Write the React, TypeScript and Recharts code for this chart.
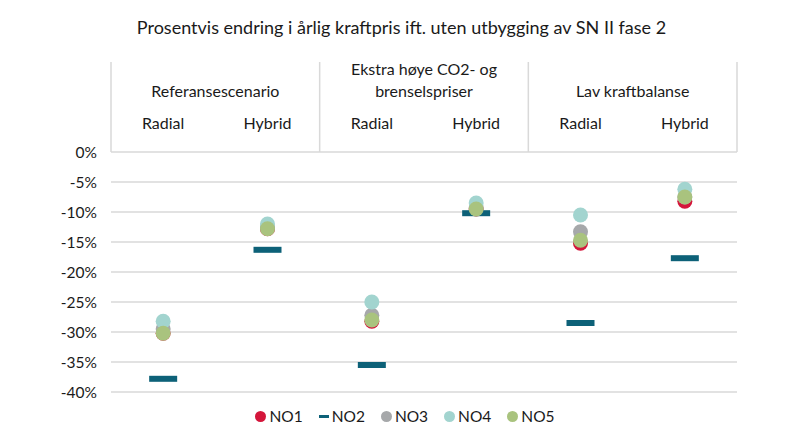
import { ComposedChart, Scatter, XAxis, YAxis, CartesianGrid } from 'recharts';

const title = 'Prosentvis endring i årlig kraftpris ift. uten utbygging av SN II fase 2';
const scenarios = ['Referansescenario', 'Ekstra høye CO2- og|brenselspriser', 'Lav kraftbalanse'];
const variants = ['Radial', 'Hybrid', 'Radial', 'Hybrid', 'Radial', 'Hybrid'];

const no1 = [-30.2, -12.8, -28.2, -9.5, -15.2, -8.2];
const no2 = [-37.8, -16.3, -35.5, -10.2, -28.5, -17.7];
const no3 = [-29.5, -12.5, -27.2, -9.3, -13.3, -7.5];
const no4 = [-28.2, -12.0, -25.0, -8.5, -10.5, -6.2];
const no5 = [-30.2, -12.8, -28.0, -9.5, -14.7, -7.5];

const yTicks = [0, -5, -10, -15, -20, -25, -30, -35, -40];

const series = [
  { name: 'NO1', values: no1, color: '#d4163b', dash: false },
  { name: 'NO2', values: no2, color: '#0d6178', dash: true },
  { name: 'NO3', values: no3, color: '#a6a8aa', dash: false },
  { name: 'NO4', values: no4, color: '#a2d4cf', dash: false },
  { name: 'NO5', values: no5, color: '#a9c37e', dash: false },
];

const FONT = 'Lato, "Open Sans", sans-serif';
const GRID = '#d9d9d9';
const HEADER_H = 90;

const toPoints = (values: number[]) => values.map((v, i) => ({ x: i + 0.5, y: v }));

const topTicks = Array.from({ length: 13 }, (_, i) => i / 2);

function HeaderTick(props: any) {
  const { x, y, payload } = props;
  const v = payload.value as number;
  if (v % 2 === 0) {
    return <line x1={x} x2={x} y1={y - HEADER_H} y2={y} stroke={GRID} strokeWidth={1.5} />;
  }
  if (Number.isInteger(v)) {
    const lines = scenarios[(v - 1) / 2].split('|');
    const base = lines.length > 1 ? y - 77 : y - 55;
    return (
      <text x={x} y={base} textAnchor="middle" fontSize={16} fill="#1a1a1a" fontFamily={FONT}>
        {lines.map((l, i) => (
          <tspan key={i} x={x} dy={i === 0 ? 0 : 22}>
            {l}
          </tspan>
        ))}
      </text>
    );
  }
  return (
    <text x={x} y={y - 23} textAnchor="middle" fontSize={16} fill="#1a1a1a" fontFamily={FONT}>
      {variants[Math.floor(v)]}
    </text>
  );
}

function Dot(props: any) {
  const { cx, cy, fill } = props;
  return <circle cx={cx} cy={cy} r={7.5} fill={fill} />;
}

function Dash(props: any) {
  const { cx, cy, fill } = props;
  return <rect x={cx - 14} y={cy - 3} width={28} height={6} fill={fill} />;
}

function LegendBox() {
  return (
    <div
      style={{
        position: 'absolute',
        left: 0,
        top: 407,
        width: 810,
        display: 'flex',
        justifyContent: 'center',
        gap: 16,
        fontFamily: FONT,
        fontSize: 15.5,
        color: '#1a1a1a',
      }}
    >
      {series.map((s) => (
        <div key={s.name} style={{ display: 'flex', alignItems: 'center', gap: 3 }}>
          {s.dash ? (
            <span style={{ display: 'inline-block', width: 10, height: 3, background: s.color }} />
          ) : (
            <span style={{ display: 'inline-block', width: 11, height: 11, borderRadius: 6, background: s.color }} />
          )}
          <span>{s.name}</span>
        </div>
      ))}
    </div>
  );
}

export default function App() {
  return (
    <div style={{ position: 'absolute', left: 0, top: 0, width: 790, height: 445, background: '#fff' }}>
      <div
        style={{
          position: 'absolute',
          left: 0,
          top: 16,
          width: 803,
          textAlign: 'center',
          fontFamily: FONT,
          fontSize: 18,
          color: '#1a1a1a',
        }}
      >
        {title}
      </div>
      <ComposedChart width={790} height={445} margin={{ top: 62, right: 53, left: 0, bottom: 53 }}>
        <CartesianGrid horizontal vertical={false} stroke={GRID} strokeWidth={1.5} />
        <XAxis
          xAxisId="top"
          type="number"
          dataKey="x"
          orientation="top"
          domain={[0, 6]}
          ticks={topTicks}
          interval={0}
          height={HEADER_H}
          axisLine={false}
          tickLine={false}
          tickSize={0}
          tickMargin={0}
          tick={<HeaderTick />}
        />
        <YAxis
          type="number"
          dataKey="y"
          domain={[-40, 0]}
          ticks={yTicks}
          interval={0}
          width={111}
          axisLine={false}
          tickLine={false}
          tickSize={0}
          tickMargin={14}
          tickFormatter={(v: number) => `${v}%`}
          tick={{ fontSize: 15.5, fill: '#1a1a1a', fontFamily: FONT }}
        />
        {series.map((s) => (
          <Scatter
            key={s.name}
            xAxisId="top"
            name={s.name}
            data={toPoints(s.values)}
            fill={s.color}
            shape={s.dash ? <Dash /> : <Dot />}
            isAnimationActive={false}
          />
        ))}
      </ComposedChart>
      <LegendBox />
    </div>
  );
}
